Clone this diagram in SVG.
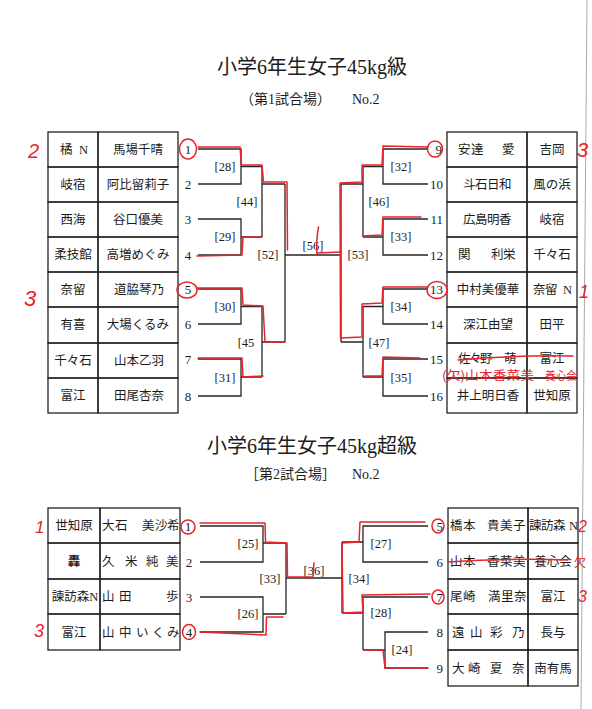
<svg xmlns="http://www.w3.org/2000/svg" width="592" height="709" viewBox="0 0 592 709">
<style>
.t{font-family:"Liberation Serif","Noto Sans CJK JP",serif;fill:#1c1c1c}
.ttl{font-size:20px;text-anchor:middle}
.sub{font-size:14px}
.c{font-size:12.5px;text-anchor:middle}
.cl{font-size:12.5px}
.n{font-size:13px;text-anchor:middle}
.ne{font-size:13px;text-anchor:end}
.lb{font-size:12.5px;text-anchor:middle}
.box{fill:none;stroke:#222;stroke-width:1.3}
.ln{fill:none;stroke:#262626;stroke-width:1.3}
.red{fill:none;stroke:#e8232a;stroke-width:1.5;stroke-linejoin:round;stroke-linecap:round}
.hw{font-family:"Liberation Sans","Noto Sans CJK JP",sans-serif;fill:#e8232a;font-style:italic}
.hwj{font-family:"Noto Sans CJK JP",sans-serif;fill:#e8232a}
</style>
<rect width="592" height="709" fill="#fff"/>
<line x1="587" y1="0" x2="581" y2="709" stroke="#aaa" stroke-width="1"/>

<!-- Titles -->
<g id="title1">
<text class="t ttl" x="312" y="74">小学6年生女子45kg級</text>
<text class="t sub" x="240" y="104">（第1試合場）</text>
<text class="t sub" x="352" y="104">No.2</text>
</g>
<g id="title2">
<text class="t ttl" x="312" y="453">小学6年生女子45kg超級</text>
<text class="t sub" x="245" y="479">［第2試合場］</text>
<text class="t sub" x="352" y="479">No.2</text>
</g>

<!-- Top left entries -->
<g id="p1"><rect class="box" x="48" y="132" width="50" height="35"/><rect class="box" x="98" y="132" width="80" height="35"/><text class="t cl" x="60" y="154">橘<tspan x="79">N</tspan></text><text class="t c" x="138" y="154">馬場千晴</text><text class="t n" x="188" y="153.5">1</text></g>
<g id="p2"><rect class="box" x="48" y="167" width="50" height="35"/><rect class="box" x="98" y="167" width="80" height="35"/><text class="t c" x="73" y="189">岐宿</text><text class="t c" x="138" y="189">阿比留莉子</text><text class="t n" x="188" y="188.5">2</text></g>
<g id="p3"><rect class="box" x="48" y="202" width="50" height="35"/><rect class="box" x="98" y="202" width="80" height="35"/><text class="t c" x="73" y="224">西海</text><text class="t c" x="138" y="224">谷口優美</text><text class="t n" x="188" y="223.5">3</text></g>
<g id="p4"><rect class="box" x="48" y="237" width="50" height="35"/><rect class="box" x="98" y="237" width="80" height="35"/><text class="t c" x="73" y="259">柔技館</text><text class="t c" x="138" y="259">高増めぐみ</text><text class="t n" x="188" y="259.5">4</text></g>
<g id="p5"><rect class="box" x="48" y="272" width="50" height="35"/><rect class="box" x="98" y="272" width="80" height="35"/><text class="t c" x="73" y="294">奈留</text><text class="t c" x="139" y="294">道脇琴乃</text><text class="t n" x="188" y="293.5">5</text></g>
<g id="p6"><rect class="box" x="48" y="307" width="50" height="36"/><rect class="box" x="98" y="307" width="80" height="36"/><text class="t c" x="73" y="329">有喜</text><text class="t c" x="138" y="329">大場くるみ</text><text class="t n" x="188" y="328.5">6</text></g>
<g id="p7"><rect class="box" x="48" y="343" width="50" height="35"/><rect class="box" x="98" y="343" width="80" height="35"/><text class="t c" x="73" y="365">千々石</text><text class="t c" x="139" y="365">山本乙羽</text><text class="t n" x="188" y="363.5">7</text></g>
<g id="p8"><rect class="box" x="48" y="378" width="50" height="35"/><rect class="box" x="98" y="378" width="80" height="35"/><text class="t c" x="73" y="400">富江</text><text class="t c" x="139" y="400">田尾杏奈</text><text class="t n" x="188" y="400.5">8</text></g>

<!-- Top right entries -->
<g id="p9"><rect class="box" x="447" y="132" width="80" height="35"/><rect class="box" x="527" y="132" width="50" height="35"/><text class="t cl" x="458 471 502" y="154">安達愛</text><text class="t c" x="552" y="154">吉岡</text><text class="t ne" x="442" y="153.5">9</text></g>
<g id="p10"><rect class="box" x="447" y="167" width="80" height="35"/><rect class="box" x="527" y="167" width="50" height="35"/><text class="t cl" x="463 475 487 499" y="189">斗石日和</text><text class="t c" x="552" y="189">風の浜</text><text class="t ne" x="443" y="188.5">10</text></g>
<g id="p11"><rect class="box" x="447" y="202" width="80" height="35"/><rect class="box" x="527" y="202" width="50" height="35"/><text class="t cl" x="463 475 487 499" y="224">広島明香</text><text class="t c" x="552" y="224">岐宿</text><text class="t ne" x="443" y="223.5">11</text></g>
<g id="p12"><rect class="box" x="447" y="237" width="80" height="35"/><rect class="box" x="527" y="237" width="50" height="35"/><text class="t cl" x="458 491 503" y="259">関利栄</text><text class="t c" x="552" y="259">千々石</text><text class="t ne" x="443" y="259.5">12</text></g>
<g id="p13"><rect class="box" x="447" y="272" width="80" height="35"/><rect class="box" x="527" y="272" width="50" height="35"/><text class="t c" x="488" y="294">中村美優華</text><text class="t cl" x="533 545 563" y="294">奈留N</text><text class="t ne" x="443" y="293.5">13</text></g>
<g id="p14"><rect class="box" x="447" y="307" width="80" height="36"/><rect class="box" x="527" y="307" width="50" height="36"/><text class="t c" x="488" y="329">深江由望</text><text class="t c" x="552" y="329">田平</text><text class="t ne" x="443" y="328.5">14</text></g>
<g id="p15"><rect class="box" x="447" y="343" width="80" height="35"/><rect class="box" x="527" y="343" width="50" height="35"/><text class="t cl" x="458 469 480 504" y="363">佐々野萌</text><text class="t c" x="552" y="363">富江</text><text class="t ne" x="443" y="363.5">15</text></g>
<g id="p16"><rect class="box" x="447" y="378" width="80" height="35"/><rect class="box" x="527" y="378" width="50" height="35"/><text class="t c" x="488" y="400">井上明日香</text><text class="t c" x="552" y="400">世知原</text><text class="t ne" x="443" y="400.5">16</text></g>

<!-- Bottom left entries -->
<g id="q1"><rect class="box" x="48" y="508" width="52" height="35"/><rect class="box" x="100" y="508" width="80" height="35"/><text class="t c" x="74" y="530">世知原</text><text class="t cl" x="102 115 142 155 167" y="530">大石美沙希</text><text class="t n" x="188" y="531">1</text></g>
<g id="q2"><rect class="box" x="48" y="543" width="52" height="36"/><rect class="box" x="100" y="543" width="80" height="36"/><text class="t c" x="74" y="566" font-weight="bold">轟</text><text class="t cl" x="102 125 146 166" y="566">久米純美</text><text class="t n" x="189" y="566.5">2</text></g>
<g id="q3"><rect class="box" x="48" y="579" width="52" height="35"/><rect class="box" x="100" y="579" width="80" height="35"/><text class="t c" x="75" y="601" font-size="12">諫訪森N</text><text class="t cl" x="102 119 166" y="601">山田歩</text><text class="t n" x="189" y="601.5">3</text></g>
<g id="q4"><rect class="box" x="48" y="614" width="52" height="36"/><rect class="box" x="100" y="614" width="80" height="36"/><text class="t c" x="74" y="637">富江</text><text class="t cl" x="102 119 136 152 167" y="637">山中いくみ</text><text class="t n" x="189" y="636.5">4</text></g>

<!-- Bottom right entries -->
<g id="q5"><rect class="box" x="448" y="508" width="80" height="35"/><rect class="box" x="528" y="508" width="50" height="35"/><text class="t cl" x="450 463 487 500 513" y="530">橋本貴美子</text><text class="t cl" x="529 541 553 569" y="530">諫訪森N</text><text class="t ne" x="443" y="530.5">5</text></g>
<g id="q6"><rect class="box" x="448" y="543" width="80" height="36"/><rect class="box" x="528" y="543" width="50" height="36"/><text class="t cl" x="450 463 487 500 513" y="566">山本香菜美</text><text class="t c" x="553" y="566" font-size="11.5">養心会</text><text class="t ne" x="443" y="566.5">6</text></g>
<g id="q7"><rect class="box" x="448" y="579" width="80" height="35"/><rect class="box" x="528" y="579" width="50" height="35"/><text class="t cl" x="450 463 488 501 514" y="601">尾崎満里奈</text><text class="t c" x="553" y="601">富江</text><text class="t ne" x="443" y="601.5">7</text></g>
<g id="q8"><rect class="box" x="448" y="614" width="80" height="36"/><rect class="box" x="528" y="614" width="50" height="36"/><text class="t cl" x="452 470 490 512" y="637">遠山彩乃</text><text class="t c" x="553" y="637">長与</text><text class="t ne" x="443" y="636.5">8</text></g>
<g id="q9"><rect class="box" x="448" y="650" width="80" height="36"/><rect class="box" x="528" y="650" width="50" height="36"/><text class="t cl" x="452 468 490 512" y="673">大崎夏奈</text><text class="t c" x="553" y="673">南有馬</text><text class="t ne" x="443" y="672.5">9</text></g>

<!-- Connectors -->
<g id="connectors">
<path class="ln" d="M198 149H241V184H198M241 166.5H262M198 219H241V255H198M241 237H262M262 166.5V237M262 184H285
M198 289H241V324H198M241 306.5H262M198 359H241V396H198M241 377H262M262 306.5V377M262 342H285
M285 184V342M285 255H341M341 184V342
M428 149H383V184H428M383 166.5H363M428 219H383V255H428M383 237H363M363 166.5V237M341 184H363
M428 289H383V324H428M383 306.5H363M428 359H383V396H428M383 377H363M363 306.5V377M341 342H363"/>
<path class="ln" d="M200 526H263V562H200M263 543H286M200 597H263V632H200M263 614H286M286 543V614M286 578H342
M342 542V613M428 526H363V562H428M363 542H342M428 597H363V650M363 613H342M363 650H385M428 632H385V668H428"/>
<g class="t lb">
<text x="225" y="171">[28]</text><text x="225" y="241">[29]</text><text x="247" y="206">[44]</text>
<text x="225" y="311">[30]</text><text x="225" y="382">[31]</text><text x="246" y="347">[45</text>
<text x="268" y="259">[52]</text><text x="313" y="250">[56]</text><text x="358" y="259">[53]</text>
<text x="401" y="171">[32]</text><text x="401" y="241">[33]</text><text x="379" y="206">[46]</text>
<text x="401" y="311">[34]</text><text x="401" y="382">[35]</text><text x="379" y="347">[47]</text>
<text x="248" y="548">[25]</text><text x="248" y="618">[26]</text><text x="270" y="583">[33]</text>
<text x="314" y="575">[36]</text><text x="359" y="583">[34]</text><text x="381" y="548">[27]</text>
<text x="381" y="617">[28]</text><text x="402" y="654">[24]</text>
</g>
</g>

<!-- Red annotations -->
<g id="annotations">
<path class="red" d="M198 147H240L241.5 165H262L263.5 182H287L287.5 250"/>
<path class="red" d="M197 256L242 255L243 237H262"/>
<path class="red" d="M197 288H242L243 305L263 306L265 342H285"/>
<path class="red" d="M198 358H242L243 377L263 376"/>
<path class="red" d="M428 147L383 146L382 165H362L362 182L340 183L340.5 338L362 337L362 304L382 303L383 287L428 287"/>
<path class="red" d="M421 217H383L382 235L363 236"/>
<path class="red" d="M420 358L383 357L382 376L365 376"/>
<path class="red" d="M317 253L341 252"/>
<path class="red" d="M318.5 227Q316 240 317 254"/>
<path class="red" d="M200 523H265L265.5 542L287 543L287.5 577H313"/>
<path class="red" d="M314 563L313 576"/>
<path class="red" d="M200 632L266 635L266.5 617L283 617"/>
<path class="red" d="M425 522L360 522L359 542L342 543L343 613L363 612L362 595L430 594"/>
<path class="red" d="M428 668L385 668L383 650L365 650"/>
<ellipse class="red" cx="188" cy="149" rx="8.5" ry="10"/>
<ellipse class="red" cx="187" cy="290" rx="10" ry="8"/>
<ellipse class="red" cx="435" cy="149" rx="7.5" ry="8"/>
<ellipse class="red" cx="437" cy="290" rx="10" ry="8.5"/>
<ellipse class="red" cx="188" cy="527" rx="7" ry="7"/>
<ellipse class="red" cx="189" cy="632" rx="6.5" ry="7.5"/>
<ellipse class="red" cx="438" cy="526" rx="6" ry="7"/>
<ellipse class="red" cx="438" cy="597" rx="6" ry="7"/>
<path class="red" d="M458 360Q515 355 573 356"/>
<path class="red" d="M448 562Q510 558 568 560"/>
<text class="hw" x="28" y="158" font-size="20">2</text>
<text class="hw" x="24" y="306" font-size="22">3</text>
<text class="hw" x="577" y="157" font-size="20">3</text>
<text class="hw" x="579" y="298" font-size="18">1</text>
<text class="hw" x="35" y="533" font-size="17">1</text>
<text class="hw" x="34" y="637" font-size="18">3</text>
<text class="hw" x="578" y="532" font-size="16">2</text>
<text class="hwj" x="574" y="567" font-size="12">欠</text>
<text class="hw" x="578" y="602" font-size="16">3</text>
<text class="hwj" x="442" y="380" font-size="12.5" textLength="92" lengthAdjust="spacingAndGlyphs">(欠)山本香菜美</text>
<text class="hwj" x="545" y="380" font-size="11" textLength="32" lengthAdjust="spacingAndGlyphs">養心会</text>
</g>
</svg>
